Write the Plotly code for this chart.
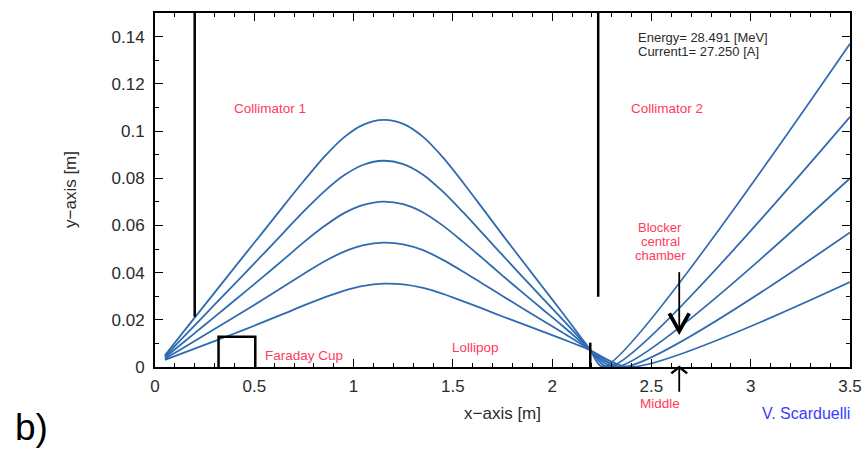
import plotly.graph_objects as go

# ---- data ----
X_LEFT = [0.05, 0.15, 0.25, 0.35, 0.45, 0.55, 0.65, 0.75, 0.85, 0.95, 1.05, 1.15,
          1.25, 1.35, 1.45, 1.55, 1.65, 1.75, 1.85, 1.95, 2.05, 2.15, 2.19]
Y1 = [0.0050, 0.0156, 0.0262, 0.0368, 0.0474, 0.0579, 0.0685, 0.0789, 0.0888, 0.0972, 0.1027, 0.1047,
      0.1030, 0.0975, 0.0888, 0.0783, 0.0672, 0.0560, 0.0450, 0.0341, 0.0232, 0.0120, 0.0075]
Y2 = [0.0045, 0.0133, 0.0220, 0.0308, 0.0395, 0.0483, 0.0572, 0.0660, 0.0742, 0.0811, 0.0857, 0.0874,
      0.0860, 0.0815, 0.0743, 0.0657, 0.0566, 0.0474, 0.0383, 0.0293, 0.0204, 0.0112, 0.0073]
Y3 = [0.0040, 0.0109, 0.0178, 0.0247, 0.0316, 0.0386, 0.0457, 0.0529, 0.0595, 0.0651, 0.0687, 0.0701,
      0.0690, 0.0655, 0.0599, 0.0531, 0.0460, 0.0387, 0.0316, 0.0246, 0.0176, 0.0103, 0.0072]
Y4 = [0.0035, 0.0085, 0.0136, 0.0186, 0.0237, 0.0289, 0.0342, 0.0395, 0.0446, 0.0488, 0.0516, 0.0527,
      0.0520, 0.0495, 0.0454, 0.0405, 0.0353, 0.0301, 0.0249, 0.0198, 0.0147, 0.0095, 0.0072]
Y5 = [0.0030, 0.0062, 0.0094, 0.0126, 0.0158, 0.0192, 0.0226, 0.0261, 0.0294, 0.0323, 0.0344, 0.0353,
      0.0350, 0.0335, 0.0310, 0.0279, 0.0247, 0.0214, 0.0183, 0.0151, 0.0119, 0.0086, 0.0072]
CURVES_Y = [Y1, Y2, Y3, Y4, Y5]
ZERO_X = [2.255, 2.285, 2.32, 2.355, 2.39]   # where each trajectory touches y=0
END_X = 3.5
END_Y = [0.137, 0.106, 0.080, 0.057, 0.036]

X_TICKS = [0, 0.5, 1, 1.5, 2, 2.5, 3, 3.5]
X_TICK_TEXT = ["0", "0.5", "1", "1.5", "2", "2.5", "3", "3.5"]
Y_TICKS = [0, 0.02, 0.04, 0.06, 0.08, 0.1, 0.12, 0.14]
Y_TICK_TEXT = ["0", "0.02", "0.04", "0.06", "0.08", "0.1", "0.12", "0.14"]

# apparatus elements
COLL1_X, COLL1_Y0 = 0.2, 0.0213
COLL2_X, COLL2_Y0 = 2.232, 0.0298
LOLLI_X, LOLLI_TOP = 2.192, 0.0103
CUP_X0, CUP_X1, CUP_TOP = 0.32, 0.505, 0.0128
ARROW_X = 2.64
ARROW_Y0, ARROW_TIP = 0.0402, 0.0152

# ---- figure ----
BLUE = "#2f6bb0"
RED = "#ff3a5c"
TXT = "#2b2b2b"
FONT = "Arial, Liberation Sans, sans-serif"

fig = go.Figure()
for ys, zx, ey in zip(CURVES_Y, ZERO_X, END_Y):
    fig.add_trace(go.Scatter(
        x=X_LEFT + [zx, END_X], y=ys + [0.0, ey],
        mode="lines", line=dict(color=BLUE, width=1.8, shape="spline", smoothing=0.8),
        hoverinfo="skip", showlegend=False))

ymax = 0.15
shapes = [
    dict(type="line", xref="x", yref="y", x0=COLL1_X, x1=COLL1_X, y0=COLL1_Y0, y1=ymax,
         line=dict(color="black", width=2.5)),
    dict(type="line", xref="x", yref="y", x0=COLL2_X, x1=COLL2_X, y0=COLL2_Y0, y1=ymax,
         line=dict(color="black", width=2.5)),
    dict(type="line", xref="x", yref="y", x0=LOLLI_X, x1=LOLLI_X, y0=0, y1=LOLLI_TOP,
         line=dict(color="black", width=2.5)),
    dict(type="path", xref="x", yref="y",
         path=f"M {CUP_X0},0 L {CUP_X0},{CUP_TOP} L {CUP_X1},{CUP_TOP} L {CUP_X1},0",
         line=dict(color="black", width=2.5)),
    # downward arrow (Blocker central chamber)
    dict(type="line", xref="x", yref="y", x0=ARROW_X, x1=ARROW_X, y0=ARROW_Y0, y1=ARROW_TIP,
         line=dict(color="black", width=1.8)),
    dict(type="path", xref="x", yref="y",
         path=f"M {ARROW_X-0.05},{ARROW_TIP+0.0075} L {ARROW_X},{ARROW_TIP} L {ARROW_X+0.05},{ARROW_TIP+0.0075}",
         line=dict(color="black", width=3.8)),
    # upward arrow (Middle) below axis
    dict(type="line", xref="x", yref="paper", x0=ARROW_X, x1=ARROW_X, y0=-0.07, y1=0,
         line=dict(color="black", width=1.8)),
    dict(type="path", xref="x", yref="paper",
         path=f"M {ARROW_X-0.04},-0.018 L {ARROW_X},0 L {ARROW_X+0.04},-0.018",
         line=dict(color="black", width=2.5)),
]

red_font = dict(family=FONT, size=13.5, color=RED)
red_small = dict(family=FONT, size=13, color=RED)
ann = [
    dict(x=0.58, y=0.1097, text="Collimator 1", font=red_font),
    dict(x=2.58, y=0.1097, text="Collimator 2", font=red_font),
    dict(x=0.75, y=0.0047, text="Faraday Cup", font=red_font),
    dict(x=1.616, y=0.0082, text="Lollipop", font=red_font),
    dict(x=2.545, y=0.0590, text="Blocker", font=red_small),
    dict(x=2.545, y=0.0531, text="central", font=red_small),
    dict(x=2.545, y=0.0472, text="chamber", font=red_small),
    dict(x=2.545, y=-0.1045, yref="paper", text="Middle", font=red_font),
    dict(x=3.28, y=-0.13, yref="paper", text="V. Scarduelli",
         font=dict(family=FONT, size=16, color="#3b3bff")),
    dict(x=2.42, y=0.1397, text="Energy= 28.491 [MeV]", xanchor="left",
         font=dict(family=FONT, size=13, color=TXT)),
    dict(x=2.42, y=0.1337, text="Current1= 27.250 [A]", xanchor="left",
         font=dict(family=FONT, size=13, color=TXT)),
    dict(x=-0.205, y=-0.172, xref="paper", yref="paper", text="b)", xanchor="left",
         font=dict(family=FONT, size=37, color="black")),
    # axis titles
    dict(x=0.5, y=-0.13, xref="paper", yref="paper", text="x−axis [m]",
         font=dict(family=FONT, size=17, color=TXT)),
    dict(x=-0.1223, y=0.5, xref="paper", yref="paper", text="y−axis [m]", textangle=-90,
         font=dict(family=FONT, size=17, color=TXT)),
]
for a in ann:
    a.setdefault("xref", "x")
    a.setdefault("yref", "y")
    a.setdefault("xanchor", "center")
    a["yanchor"] = "middle"
    a["showarrow"] = False

axis_common = dict(
    showline=True, linecolor="black", linewidth=2, mirror="allticks",
    ticks="inside", ticklen=8, tickwidth=1.3, tickcolor="black",
    showgrid=False, zeroline=False, automargin=False,
    tickfont=dict(family=FONT, size=17, color=TXT),
)

fig.update_layout(
    width=866, height=451,
    margin=dict(l=155, r=16, t=13, b=84),
    paper_bgcolor="white", plot_bgcolor="white",
    xaxis=dict(range=[0, 3.5], tickvals=X_TICKS, ticktext=X_TICK_TEXT, ticklabelstandoff=3,
               minor=dict(dtick=0.1, ticks="inside", ticklen=4, tickcolor="black", tickwidth=1.2),
               **axis_common),
    yaxis=dict(range=[0, ymax], tickvals=Y_TICKS, ticktext=Y_TICK_TEXT, ticklabelstandoff=5,
               minor=dict(dtick=0.01, ticks="inside", ticklen=4, tickcolor="black", tickwidth=1.2),
               **axis_common),
    shapes=shapes, annotations=ann,
)

fig.write_html("out.html")
